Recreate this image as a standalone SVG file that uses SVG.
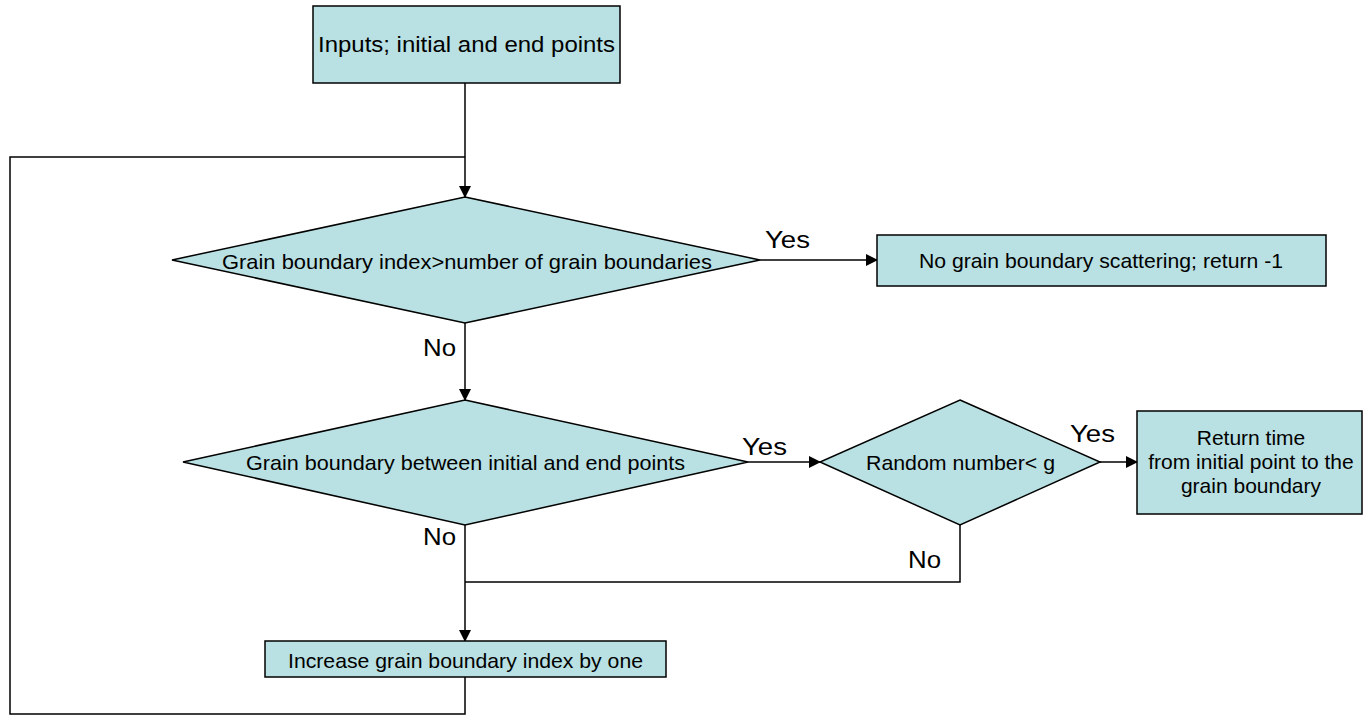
<svg xmlns="http://www.w3.org/2000/svg" width="1363" height="716" viewBox="0 0 1363 716">
<style>
.n{fill:#b9e0e2;stroke:#000;stroke-width:1.5}
.c{fill:none;stroke:#000;stroke-width:1.5}
text{font-family:"Liberation Sans",Arial,sans-serif;fill:#000}
.t{font-size:21px}
.m{font-size:21px;text-anchor:middle}
.l{font-size:24px}
</style>
<defs>
<marker id="ah" markerWidth="12" markerHeight="12" refX="11" refY="6" orient="auto" markerUnits="userSpaceOnUse">
<path d="M0,0 L12,6 L0,12 Z" fill="#000"/>
</marker>
</defs>
<g id="connectors">
<path class="c" d="M465,83 V197" marker-end="url(#ah)"/>
<path class="c" d="M465,677 V714 H10 V157 H465"/>
<path class="c" d="M760,260 H877" marker-end="url(#ah)"/>
<path class="c" d="M465,323 V400" marker-end="url(#ah)"/>
<path class="c" d="M748,462 H820" marker-end="url(#ah)"/>
<path class="c" d="M1100,462 H1137" marker-end="url(#ah)"/>
<path class="c" d="M465,525 V641" marker-end="url(#ah)"/>
<path class="c" d="M960,525 V582 H465"/>
<text class="l" x="765" y="248" textLength="45" lengthAdjust="spacingAndGlyphs">Yes</text>
<text class="l" x="423" y="356" textLength="33" lengthAdjust="spacingAndGlyphs">No</text>
<text class="l" x="742" y="455" textLength="45" lengthAdjust="spacingAndGlyphs">Yes</text>
<text class="l" x="1070" y="442" textLength="45" lengthAdjust="spacingAndGlyphs">Yes</text>
<text class="l" x="423" y="545" textLength="33" lengthAdjust="spacingAndGlyphs">No</text>
<text class="l" x="908" y="568" textLength="33" lengthAdjust="spacingAndGlyphs">No</text>
</g>
<g id="start">
<rect class="n" x="313" y="6" width="307" height="77"/>
<text x="318" y="52" style="font-size:22px" textLength="297" lengthAdjust="spacingAndGlyphs">Inputs; initial and end points</text>
</g>
<g id="d1">
<polygon class="n" points="465,197 760,260 465,323 172,260"/>
<text class="t" x="222" y="269" textLength="490" lengthAdjust="spacingAndGlyphs">Grain boundary index&gt;number of grain boundaries</text>
</g>
<g id="r1">
<rect class="n" x="877" y="235" width="449" height="51"/>
<text class="t" x="919" y="268" textLength="364" lengthAdjust="spacingAndGlyphs">No grain boundary scattering; return -1</text>
</g>
<g id="d2">
<polygon class="n" points="465,400 748,462 465,525 183,462"/>
<text class="t" x="246" y="470" textLength="439" lengthAdjust="spacingAndGlyphs">Grain boundary between initial and end points</text>
</g>
<g id="d3">
<polygon class="n" points="960,400 1100,462 960,525 820,462"/>
<text class="t" x="866" y="470" textLength="189" lengthAdjust="spacingAndGlyphs">Random number&lt; g</text>
</g>
<g id="r2">
<rect class="n" x="1137" y="411" width="225" height="103"/>
<text class="m" x="1251" y="445">Return time</text>
<text class="m" x="1251" y="469">from initial point to the</text>
<text class="m" x="1251" y="493">grain boundary</text>
</g>
<g id="inc">
<rect class="n" x="265" y="641" width="401" height="36"/>
<text class="t" x="288" y="668" textLength="355" lengthAdjust="spacingAndGlyphs">Increase grain boundary index by one</text>
</g>
</svg>
